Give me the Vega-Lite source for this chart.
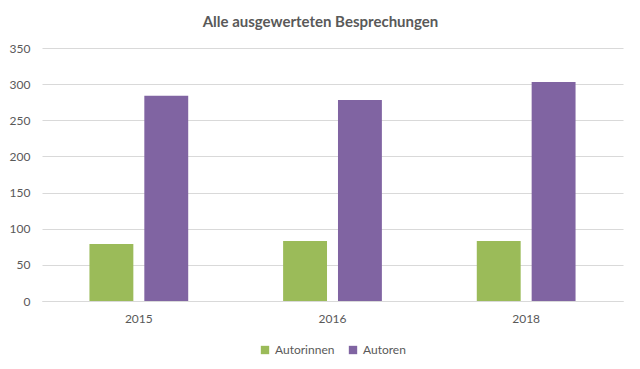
{
  "$schema": "https://vega.github.io/schema/vega-lite/v6.json",
  "autosize": "none",
  "width": 581,
  "height": 253,
  "padding": {"left": 42, "top": 48, "right": 17, "bottom": 68},
  "background": "white",
  "title": {"text": "Alle ausgewerteten Besprechungen", "font": "Lato", "fontSize": 15, "fontWeight": "bold", "color": "#595959", "anchor": "middle", "dx": -12, "offset": 12},
  "data": {"values": [
    {"Jahr": "2015", "Gruppe": "Autorinnen", "Anzahl": 79},
    {"Jahr": "2015", "Gruppe": "Autoren", "Anzahl": 284},
    {"Jahr": "2016", "Gruppe": "Autorinnen", "Anzahl": 83},
    {"Jahr": "2016", "Gruppe": "Autoren", "Anzahl": 278},
    {"Jahr": "2018", "Gruppe": "Autorinnen", "Anzahl": 83},
    {"Jahr": "2018", "Gruppe": "Autoren", "Anzahl": 303}
  ]},
  "mark": {"type": "bar"},
  "encoding": {
    "x": {"field": "Jahr", "type": "nominal", "scale": {"paddingInner": 0.49, "paddingOuter": 0.245},
      "axis": {"title": null, "labelAngle": 0, "ticks": false, "grid": false, "domainColor": "#D9D9D9", "labelPadding": 12}},
    "xOffset": {"field": "Gruppe", "type": "nominal", "sort": ["Autorinnen", "Autoren"], "scale": {"paddingInner": 0.2, "paddingOuter": 0}},
    "y": {"field": "Anzahl", "type": "quantitative", "scale": {"domain": [0, 350], "nice": false},
      "axis": {"title": null, "values": [0, 50, 100, 150, 200, 250, 300, 350], "domain": false, "ticks": false, "grid": true, "gridColor": "#D9D9D9", "labelPadding": 12}},
    "color": {"field": "Gruppe", "type": "nominal", "sort": ["Autorinnen", "Autoren"],
      "scale": {"domain": ["Autorinnen", "Autoren"], "range": ["#9BBB59", "#8064A2"]},
      "legend": {"title": null, "orient": "bottom", "direction": "horizontal", "symbolType": "square", "symbolSize": 70, "symbolStrokeWidth": 0, "offset": 20, "columnPadding": 12}}
  },
  "config": {
    "view": {"stroke": null},
    "axis": {"labelFont": "Lato", "labelFontSize": 12, "labelColor": "#595959"},
    "legend": {"labelFont": "Lato", "labelFontSize": 12, "labelColor": "#595959", "layout": {"bottom": {"anchor": "middle"}}}
  }
}
